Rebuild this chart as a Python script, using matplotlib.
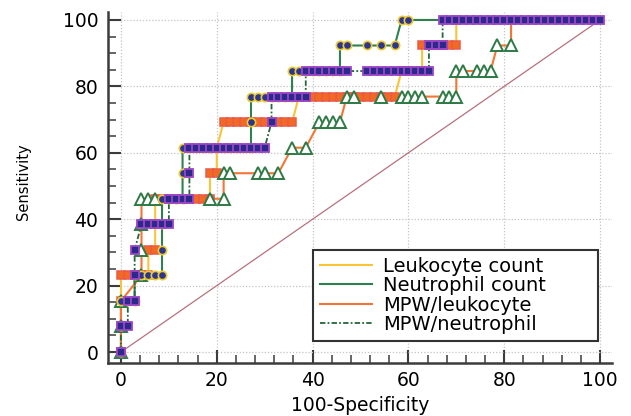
import matplotlib
matplotlib.use('Agg')
from matplotlib import pyplot as plt
from matplotlib.lines import Line2D
from matplotlib.ticker import MultipleLocator

# ROC points: for each number of detected positives (index 0..13),
# the number of false positives (out of 70 negatives) where a point is drawn
n_pos = 13
n_neg = 70

leuko_steps = [
    [0], [0], [0], [0, 1, 2, 3, 4], [4, 5], [5],
    [5, 6, 7, 8, 9, 10, 11, 12, 13], [13, 14], [14],
    [15, 16, 17, 18, 19, 20, 21, 22, 23, 24, 25],
    [26, 27, 28, 29, 30, 31, 32, 33, 34, 35, 36, 37, 38, 39, 40],
    [41, 42, 43, 44], [44, 45, 46, 47, 48, 49], [49, 70],
]
neutro_steps = [
    [0], [0], [0, 1, 2], [2, 3, 4, 5, 6], [6], [6], [6, 7, 8, 9], [9],
    [9, 10, 11, 12, 13, 14, 15, 16, 17, 18, 19], [19],
    [19, 20, 21, 22, 23, 24, 25], [25, 26, 27, 28, 29, 30, 31, 32],
    [32, 33, 36, 38, 40], [41, 42, 70],
]
mpw_leuko_steps = [
    [0], [0], [0], [3], [3], [3], [3, 4, 5, 13, 15], [15, 16, 20, 21, 23],
    [25, 27], [29, 30, 31, 32], [33, 34, 38, 41, 42, 43, 44, 47, 48, 49],
    [49, 50, 52, 53, 54], [55, 57], [57, 70],
]
mpw_neutro_steps = [
    [0], [0, 1], [1, 2], [2], [2], [3, 4, 5, 6, 7], [7, 8, 9, 10], [10],
    [10, 11, 12, 13, 14, 15, 16, 17, 18, 19, 20, 21], [22],
    [22, 23, 24, 25, 26, 27],
    [27, 28, 29, 30, 31, 32, 33, 36, 37, 38, 39, 40, 41, 42, 43, 44, 45],
    [45, 46, 47],
    [47, 48, 49, 50, 51, 52, 53, 54, 55, 56, 57, 58, 59, 60, 61, 62, 63, 64,
     65, 66, 67, 68, 69, 70],
]

labels = ['Leukocyte count', 'Neutrophil count', 'MPW/leukocyte', 'MPW/neutrophil']


def roc_points(steps):
    xs, ys = [], []
    for tp, fps in enumerate(steps):
        for fp in fps:
            xs.append(100.0 * fp / n_neg)
            ys.append(100.0 * tp / n_pos)
    return xs, ys


styles = [
    # line colour, line style, line width, marker, face, edge, size, edge width
    ('#F7C535', '-', 1.5, 's', '#F26A21', '#EA5A4A', 6.0, 1.1),
    ('#2E8050', '-', 1.5, 'o', '#2D3590', '#EBCB2F', 6.0, 1.2),
    ('#F47535', '-', 1.5, '^', 'white', '#2D7A45', 8.5, 1.4),
    ('#24663A', (0, (3, 1.2, 1, 1.2)), 1.3, 's', '#2B2A8A', '#9D45C8', 6.0, 1.3),
]
series = [leuko_steps, neutro_steps, mpw_leuko_steps, mpw_neutro_steps]
marker_order = [3, 5, 4, 6]
# points at 100% sensitivity that sit under the MPW/neutrophil squares
marker_every = [slice(0, -1), slice(0, -1), slice(0, -2), None]

plt.rcParams['font.family'] = ['DejaVu Sans']

fig = plt.figure(figsize=(6.31, 4.16), dpi=100)
ax = fig.add_axes([0.1712, 0.1274, 0.7987, 0.8438])

ax.plot([0, 100], [0, 100], color='#B8707C', lw=0.9, zorder=1.5)

for steps, st, zo, me in zip(series, styles, marker_order, marker_every):
    xs, ys = roc_points(steps)
    ax.plot(xs, ys, color=st[0], ls=st[1], lw=st[2], zorder=2)
    ax.plot(xs, ys, ls='none', marker=st[3], markerfacecolor=st[4],
            markeredgecolor=st[5], markersize=st[6], markeredgewidth=st[7],
            markevery=me, zorder=zo)

ax.set_xlim(-2.7, 102.5)
ax.set_ylim(-3.3, 102.4)
ax.xaxis.set_major_locator(MultipleLocator(20))
ax.xaxis.set_minor_locator(MultipleLocator(4))
ax.yaxis.set_major_locator(MultipleLocator(20))
ax.yaxis.set_minor_locator(MultipleLocator(5))

ax.grid(True, which='major', color='#C4C4C4', ls=(0, (1, 1.5)), lw=0.9)
ax.set_axisbelow(True)

for side in ['top', 'right']:
    ax.spines[side].set_visible(False)
for side in ['left', 'bottom']:
    ax.spines[side].set_linewidth(1.8)
    ax.spines[side].set_color('#3C3C3C')

ax.tick_params(which='major', direction='in', length=9.5, width=1.5,
               color='#3C3C3C', labelsize=13.5, pad=7)
ax.tick_params(which='minor', direction='in', length=5.5, width=1.1,
               color='#3C3C3C')
ax.tick_params(axis='x', which='major', pad=6)

ax.set_xlabel('100-Specificity', fontsize=13.5)
ax.xaxis.set_label_coords(0.5, -0.095)
ax.set_ylabel('Sensitivity', fontsize=10.5)
ax.yaxis.set_label_coords(-0.152, 0.516)

handles = [Line2D([], [], color=st[0], ls=st[1], lw=st[2]) for st in styles]
leg = ax.legend(handles, labels, loc='upper left',
                bbox_to_anchor=(313 / 631, 66 / 416, 285 / 631, 100 / 416),
                bbox_transform=fig.transFigure, mode='expand', fontsize=14,
                frameon=True, fancybox=False, framealpha=1,
                edgecolor='#333333', handlelength=2.7, handletextpad=0.55,
                labelspacing=0.02, borderpad=0.35, borderaxespad=0)
leg.get_frame().set_linewidth(1.5)
leg.set_zorder(10)

fig.savefig('out.png', dpi=100)
